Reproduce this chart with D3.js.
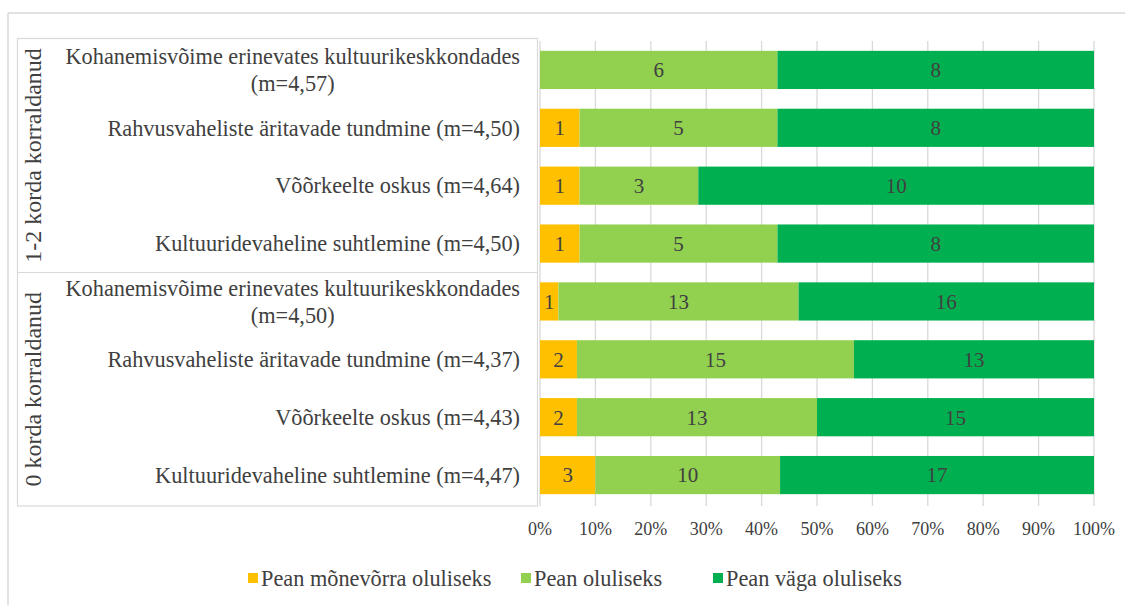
<!DOCTYPE html>
<html>
<head>
<meta charset="utf-8">
<script src="https://cdn.jsdelivr.net/npm/d3@7"></script>
<style>
  body { margin: 0; background: #fff; }
  text { font-family: "Liberation Serif", "Times New Roman", serif; fill: #404040; }
</style>
</head>
<body>
<div id="chart"></div>
<script>
const groups = ["1-2 korda korraldanud", "0 korda korraldanud"];
const categories = [
  ["Kohanemisvõime erinevates kultuurikeskkondades", "(m=4,57)"],
  ["Rahvusvaheliste äritavade tundmine (m=4,50)"],
  ["Võõrkeelte oskus (m=4,64)"],
  ["Kultuuridevaheline suhtlemine (m=4,50)"],
  ["Kohanemisvõime erinevates kultuurikeskkondades", "(m=4,50)"],
  ["Rahvusvaheliste äritavade tundmine (m=4,37)"],
  ["Võõrkeelte oskus (m=4,43)"],
  ["Kultuuridevaheline suhtlemine (m=4,47)"]
];
const rowGroup = [0, 0, 0, 0, 1, 1, 1, 1];
const seriesNames = ["Pean mõnevõrra oluliseks", "Pean oluliseks", "Pean väga oluliseks"];
const somewhat = [0, 1, 1, 1, 1, 2, 2, 3];
const important = [6, 5, 3, 5, 13, 15, 13, 10];
const veryImportant = [8, 8, 10, 8, 16, 13, 15, 17];
const colors = ["#FFC000", "#92D050", "#00B050"];
const ticks = [0, 0.1, 0.2, 0.3, 0.4, 0.5, 0.6, 0.7, 0.8, 0.9, 1];

const W = 1125, H = 605;
const svg = d3.select("#chart").append("svg")
  .attr("width", W).attr("height", H);

// outer chart border (only top and left visible)
svg.append("line").attr("x1", 8).attr("x2", W).attr("y1", 13).attr("y2", 13)
  .attr("stroke", "#d9d9d9").attr("stroke-width", 1.5);
svg.append("line").attr("x1", 8).attr("x2", 8).attr("y1", 13).attr("y2", H)
  .attr("stroke", "#d9d9d9").attr("stroke-width", 1.5);

const x = d3.scaleLinear().domain([0, 1]).range([540, 1094]);
const y = d3.scaleBand().domain(d3.range(categories.length)).range([41, 504]).paddingInner(0.34).paddingOuter(0.17);

const rows = d3.range(categories.length).map(i => {
  const vals = [somewhat[i], important[i], veryImportant[i]];
  const total = d3.sum(vals);
  let acc = 0;
  return vals.map((v, k) => {
    const s = { row: i, k, v, x0: acc / total, x1: (acc + v) / total };
    acc += v;
    return s;
  });
});

// gridlines
svg.append("g").selectAll("line").data(ticks).join("line")
  .attr("x1", d => x(d)).attr("x2", d => x(d))
  .attr("y1", 41).attr("y2", 506)
  .attr("stroke", "#d9d9d9").attr("stroke-width", 1.3);

// label box
svg.append("rect").attr("x", 17.5).attr("y", 38.5).attr("width", 520).attr("height", 467.5)
  .attr("fill", "#fff").attr("stroke", "#d9d9d9").attr("stroke-width", 1.2);
const sepY = (y(3) + y.bandwidth() + y(4)) / 2;
svg.append("line").attr("x1", 17.5).attr("x2", 537.5).attr("y1", sepY).attr("y2", sepY)
  .attr("stroke", "#d9d9d9").attr("stroke-width", 1.2);

// bars
const seg = svg.append("g").selectAll("g").data(rows).join("g")
  .selectAll("g").data(d => d.filter(s => s.v > 0)).join("g");
seg.append("rect")
  .attr("x", d => x(d.x0)).attr("width", d => x(d.x1) - x(d.x0))
  .attr("y", d => y(d.row)).attr("height", y.bandwidth())
  .attr("fill", d => colors[d.k]);
seg.append("text")
  .attr("x", d => (x(d.x0) + x(d.x1)) / 2)
  .attr("y", d => y(d.row) + y.bandwidth() / 2)
  .attr("dy", "0.35em").attr("text-anchor", "middle")
  .attr("font-size", 21)
  .text(d => d.v);

// category labels
const labelRight = 520;
const labelSize = 22.3;
categories.forEach((lines, i) => {
  const cy = y(i) + y.bandwidth() / 2;
  if (lines.length === 1) {
    svg.append("text").attr("x", labelRight).attr("y", cy).attr("dy", "0.35em")
      .attr("text-anchor", "end").attr("font-size", labelSize).text(lines[0]);
  } else {
    const t1 = svg.append("text").attr("x", labelRight).attr("y", cy - 13.5).attr("dy", "0.35em")
      .attr("text-anchor", "end").attr("font-size", labelSize).text(lines[0]);
    const w = t1.node().getComputedTextLength();
    svg.append("text").attr("x", labelRight - w / 2).attr("y", cy + 13.5).attr("dy", "0.35em")
      .attr("text-anchor", "middle").attr("font-size", labelSize).text(lines[1]);
  }
});

// group labels (rotated)
groups.forEach((g, gi) => {
  const top = gi === 0 ? 38.5 : sepY;
  const bottom = gi === 0 ? sepY : 506;
  const cy = (top + bottom) / 2;
  svg.append("text")
    .attr("transform", `translate(33,${cy}) rotate(-90)`)
    .attr("dy", "0.35em").attr("text-anchor", "middle")
    .attr("font-size", 24).text(g);
});

// x axis labels
svg.append("g").selectAll("text").data(ticks).join("text")
  .attr("x", d => x(d)).attr("y", 529).attr("dy", "0.35em")
  .attr("text-anchor", "middle").attr("font-size", 18)
  .text(d3.format(".0%"));

// legend
const legendX = [248, 521, 713];
const leg = svg.append("g").selectAll("g").data(seriesNames).join("g")
  .attr("transform", (d, i) => `translate(${legendX[i]},578)`);
leg.append("rect").attr("x", 0).attr("y", -5).attr("width", 10).attr("height", 10)
  .attr("fill", (d, i) => colors[i]);
leg.append("text").attr("x", 13).attr("y", 0).attr("dy", "0.35em")
  .attr("font-size", 22.3).text(d => d);
</script>
</body>
</html>
